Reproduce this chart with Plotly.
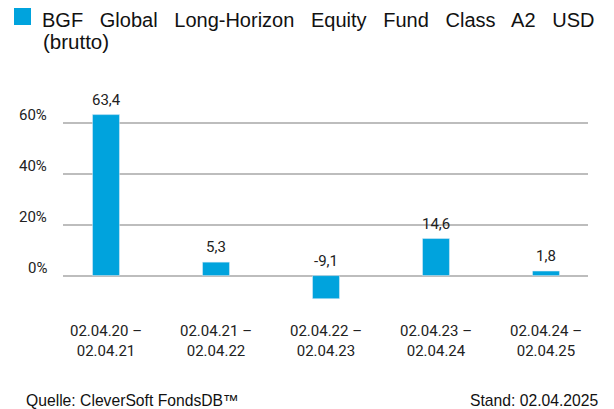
import plotly.graph_objects as go

categories = ["02.04.20 –<br>02.04.21", "02.04.21 –<br>02.04.22", "02.04.22 –<br>02.04.23",
              "02.04.23 –<br>02.04.24", "02.04.24 –<br>02.04.25"]
values = [63.4, 5.3, -9.1, 14.6, 1.8]
value_labels = ["63,4", "5,3", "-9,1", "14,6", "1,8"]
y_ticks = [0, 20, 40, 60]
y_tick_labels = ["0%", "20%", "40%", "60%"]
title_line1 = "BGF Global Long-Horizon Equity Fund Class A2 USD"
title_line2 = "(brutto)"
source_text = "Quelle: CleverSoft FondsDB™"
date_text = "Stand: 02.04.2025"

BLUE = "#00A3DD"
OFF = 8  # page body margin of the html page
W, H = 614 - OFF, 409 - OFF
ML, MR, MT, MB = 63 - OFF, 26, 108 - OFF, 108
PW = W - ML - MR
PH = H - MT - MB


def px_x(px):
    # px given in reference-window pixels
    return (px - OFF - ML) / PW


def px_y(py):
    return (H - MB - (py - OFF)) / PH


fig = go.Figure()
fig.add_trace(go.Bar(
    x=list(range(len(categories))), y=values, marker_color=BLUE, width=0.245,
    hoverinfo="skip",
))

annotations = []
for i, (v, lab) in enumerate(zip(values, value_labels)):
    annotations.append(dict(
        x=i, y=max(v, 0), xref="x", yref="y", text=lab, showarrow=False,
        yanchor="middle", xanchor="center", yshift=15,
        font=dict(family="Roboto", size=15, color="#222222"),
    ))

for tv, tl in zip(y_ticks, y_tick_labels):
    annotations.append(dict(
        x=px_x(49), y=tv, xref="paper", yref="y", text=tl, showarrow=False,
        xanchor="right", yanchor="middle", yshift=8,
        font=dict(family="Roboto", size=15, color="#222222"),
    ))

words = title_line1.split(" ")
title_spaced = "   ".join(words)
annotations.append(dict(
    x=px_x(41), y=px_y(OFF), xref="paper", yref="paper", text=title_spaced,
    showarrow=False, xanchor="left", yanchor="top", borderpad=0,
    font=dict(family="Liberation Sans", size=20, color="#111111"),
))
annotations.append(dict(
    x=px_x(41), y=px_y(41), xref="paper", yref="paper", text=title_line2,
    showarrow=False, xanchor="left", yanchor="middle",
    font=dict(family="Liberation Sans", size=20.5, color="#111111"),
))
annotations.append(dict(
    x=px_x(24), y=px_y(400), xref="paper", yref="paper", text=source_text,
    showarrow=False, xanchor="left", yanchor="middle",
    font=dict(family="Liberation Sans", size=15.7, color="#111111"),
))
annotations.append(dict(
    x=px_x(601), y=px_y(400), xref="paper", yref="paper", text=date_text,
    showarrow=False, xanchor="right", yanchor="middle",
    font=dict(family="Liberation Sans", size=15.7, color="#111111"),
))

shapes = [
    dict(type="rect", xref="paper", yref="paper",
         x0=px_x(14), x1=px_x(31), y0=px_y(8), y1=px_y(25),
         fillcolor=BLUE, line=dict(width=0)),
    dict(type="line", xref="paper", yref="paper",
         x0=px_x(607.5), x1=px_x(607.5), y0=px_y(OFF), y1=px_y(409),
         line=dict(color="#222222", width=1.5)),
]

fig.update_layout(
    width=W, height=H,
    margin=dict(l=ML, r=MR, t=MT, b=MB, pad=0),
    paper_bgcolor="white", plot_bgcolor="white",
    showlegend=False,
    annotations=annotations, shapes=shapes,
    xaxis=dict(
        range=[-0.391, 4.382], tickmode="array",
        tickvals=list(range(len(categories))), ticktext=categories,
        showgrid=False, zeroline=False, showline=False, ticks="",
        tickfont=dict(family="Roboto", size=15, color="#222222"),
        ticklabelstandoff=19,
    ),
    yaxis=dict(
        range=[-10, 66], tickmode="array", tickvals=y_ticks,
        showticklabels=False, showgrid=True, gridcolor="#BDBDBD", gridwidth=2,
        zeroline=False, showline=False,
    ),
)

fig.write_html("out.html")
